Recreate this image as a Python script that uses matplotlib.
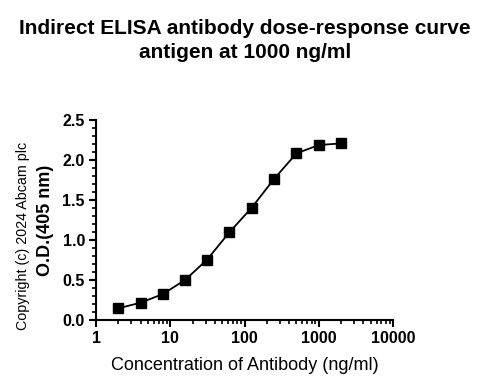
import matplotlib
matplotlib.use("Agg")
import matplotlib.pyplot as plt
from matplotlib.ticker import LogLocator, MultipleLocator, FixedLocator, FixedFormatter

plt.rcParams['font.family'] = ['Liberation Sans', 'DejaVu Sans']

# antibody concentration (ng/ml) and absorbance
conc = [2, 4, 8, 16, 31.25, 62.5, 125, 250, 500, 1000, 2000]
od = [0.146, 0.217, 0.325, 0.504, 0.754, 1.096, 1.404, 1.763, 2.083, 2.187, 2.208]

xticks = [1, 10, 100, 1000, 10000]
xticklabels = ['1', '10', '100', '1000', '10000']
yticks = [0.0, 0.5, 1.0, 1.5, 2.0, 2.5]
yticklabels = ['0.0', '0.5', '1.0', '1.5', '2.0', '2.5']

fig = plt.figure(figsize=(4.9, 3.91), dpi=100)
ax = fig.add_axes([0.196, 0.1816, 0.606, 0.5114])

ax.plot(conc, od, color='black', lw=1.3, marker='s', ms=6.5, clip_on=False)

ax.set_xscale('log')
ax.set_xlim(1, 10000)
ax.set_ylim(0, 2.5)
ax.xaxis.set_major_locator(FixedLocator(xticks))
ax.xaxis.set_major_formatter(FixedFormatter(xticklabels))
ax.xaxis.set_minor_locator(LogLocator(base=10, subs=range(2, 10)))
ax.yaxis.set_major_locator(FixedLocator(yticks))
ax.yaxis.set_major_formatter(FixedFormatter(yticklabels))
ax.yaxis.set_minor_locator(MultipleLocator(0.1))

for s in ['top', 'right']:
    ax.spines[s].set_visible(False)
for s in ['left', 'bottom']:
    ax.spines[s].set_linewidth(1.5)

ax.tick_params(which='major', direction='out', length=5, width=1.5, labelsize=11.5, pad=3)
ax.tick_params(which='minor', direction='out', length=3, width=1.2)
for lab in ax.get_xticklabels() + ax.get_yticklabels():
    lab.set_fontweight('bold')

ax.set_xlabel('Concentration of Antibody (ng/ml)', fontsize=13, labelpad=8)
ax.set_ylabel('O.D.(405 nm)', fontsize=13, fontweight='bold', labelpad=6)

fig.text(0.047, 0.397, 'Copyright (c) 2024 Abcam plc', rotation=90,
         ha='center', va='center', fontsize=10.3)

fig.suptitle('Indirect ELISA antibody dose-response curve\nantigen at 1000 ng/ml',
             fontsize=15, fontweight='bold', y=0.952, linespacing=1.32)

fig.savefig('out.png', dpi=100)
